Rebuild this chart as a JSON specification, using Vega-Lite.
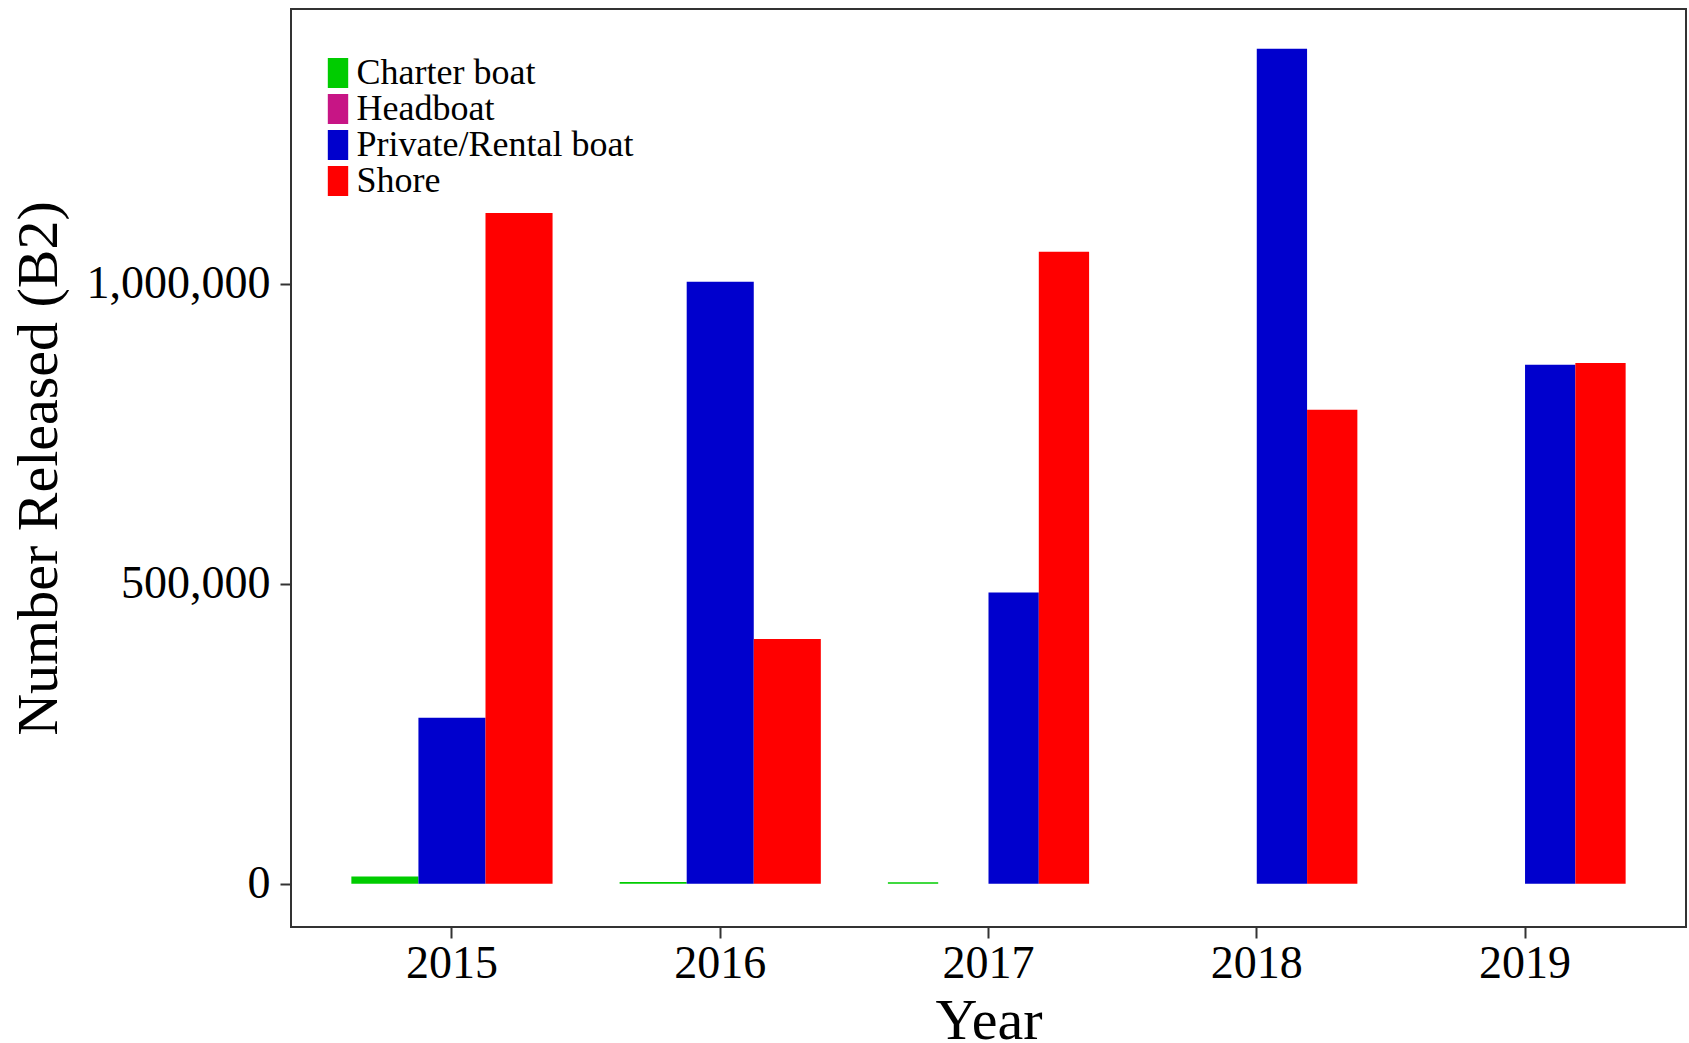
{
  "$schema": "https://vega.github.io/schema/vega-lite/v6.json",
  "width": 1395,
  "height": 918,
  "autosize": {"type": "none"},
  "padding": {"left": 291, "top": 9, "right": 3, "bottom": 116},
  "background": "white",
  "config": {
    "view": {"stroke": "#333333", "strokeWidth": 2},
    "font": "Liberation Serif",
    "axis": {
      "grid": false,
      "domain": false,
      "tickColor": "#333333",
      "tickWidth": 2,
      "tickSize": 11,
      "labelFont": "Liberation Serif",
      "labelColor": "black",
      "labelFontSize": 46,
      "labelLimit": 400,
      "titleFont": "Liberation Serif",
      "titleFontSize": 58,
      "titleFontWeight": "normal",
      "titleColor": "black"
    }
  },
  "data": {
    "values": [
      {"Year": 2015, "Fleet": "Charter boat", "Released": 12000},
      {"Year": 2015, "Fleet": "Private/Rental boat", "Released": 276500},
      {"Year": 2015, "Fleet": "Shore", "Released": 1117700},
      {"Year": 2016, "Fleet": "Charter boat", "Released": 3000},
      {"Year": 2016, "Fleet": "Private/Rental boat", "Released": 1003300},
      {"Year": 2016, "Fleet": "Shore", "Released": 407700},
      {"Year": 2017, "Fleet": "Charter boat", "Released": 2500},
      {"Year": 2017, "Fleet": "Headboat", "Released": 0},
      {"Year": 2017, "Fleet": "Private/Rental boat", "Released": 485500},
      {"Year": 2017, "Fleet": "Shore", "Released": 1053300},
      {"Year": 2018, "Fleet": "Charter boat", "Released": 0},
      {"Year": 2018, "Fleet": "Headboat", "Released": 0},
      {"Year": 2018, "Fleet": "Private/Rental boat", "Released": 1391700},
      {"Year": 2018, "Fleet": "Shore", "Released": 790000},
      {"Year": 2019, "Fleet": "Charter boat", "Released": 0},
      {"Year": 2019, "Fleet": "Headboat", "Released": 0},
      {"Year": 2019, "Fleet": "Private/Rental boat", "Released": 865000},
      {"Year": 2019, "Fleet": "Shore", "Released": 867700}
    ]
  },
  "encoding": {
    "x": {
      "field": "Year",
      "type": "ordinal",
      "scale": {"paddingInner": 0.25, "paddingOuter": 0.225},
      "axis": {
        "title": "Year",
        "labelAngle": 0,
        "labelPadding": 3,
        "titleBaseline": "alphabetic",
        "titleY": 111
      }
    },
    "y": {
      "field": "Released",
      "type": "quantitative",
      "scale": {"domain": [-72200, 1457800], "nice": false},
      "axis": {
        "title": "Number Released (B2)",
        "values": [0, 500000, 1000000],
        "format": ",d",
        "labelPadding": 10,
        "titleAngle": -90,
        "titleBaseline": "alphabetic",
        "titleX": -235,
        "titleY": 459
      }
    },
    "y2": {"datum": 0},
    "xOffset": {"field": "Fleet", "type": "nominal"},
    "color": {
      "field": "Fleet",
      "type": "nominal",
      "scale": {
        "domain": ["Charter boat", "Headboat", "Private/Rental boat", "Shore"],
        "range": ["#00CC00", "#C71585", "#0000CD", "#FF0000"]
      },
      "legend": {
        "title": null,
        "orient": "none",
        "legendX": 29,
        "legendY": 46,
        "padding": 0,
        "labelFont": "Liberation Serif",
        "labelFontSize": 36,
        "labelColor": "black",
        "labelLimit": 800,
        "labelOffset": 0.5,
        "symbolType": "M-0.68,-1H0.68V1H-0.68Z",
        "symbolSize": 900,
        "symbolStrokeWidth": 0,
        "symbolOpacity": 1,
        "rowPadding": 0
      }
    }
  },
  "layer": [
    {"transform": [{"filter": "datum.Year <= 2016"}], "mark": {"type": "bar"}},
    {"transform": [{"filter": "datum.Year >= 2017"}], "mark": {"type": "bar"}}
  ],
  "resolve": {"scale": {"xOffset": "independent"}}
}
